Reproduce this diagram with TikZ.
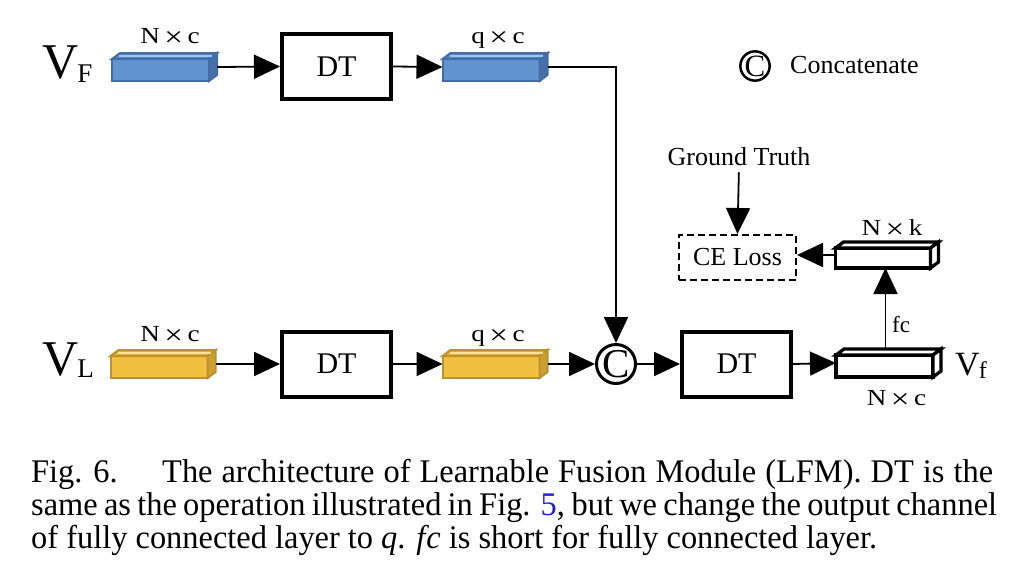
\documentclass[tikz,border=0pt]{standalone}
\usepackage{fontspec}
\setmainfont{Liberation Serif}
\usetikzlibrary{arrows.meta,calc}
\definecolor{bfront}{RGB}{98,148,208}
\definecolor{btop}{RGB}{84,132,192}
\definecolor{bside}{RGB}{70,112,168}
\definecolor{bedge}{RGB}{66,110,165}
\definecolor{bhi}{RGB}{160,198,240}
\definecolor{yfront}{RGB}{242,192,64}
\definecolor{ytop}{RGB}{228,178,56}
\definecolor{yside}{RGB}{205,158,48}
\definecolor{yedge}{RGB}{188,146,48}
\definecolor{yhi}{RGB}{252,226,150}
\definecolor{linkblue}{RGB}{30,30,210}
\newlength\capw
\newcommand\capfont{\fontsize{33}{33}\selectfont}
\newcommand\tms{\,\raisebox{-3pt}{\fontsize{28}{28}\selectfont ×}\,}
% name, front, top, side, edge, highlight-options, line width
\newcommand\barfaces[7]{%
  \draw[line width=#7, draw=#5, fill=#2, line join=miter] (#1.south west) rectangle ($(#1.north east)+(-8,6)$);
  \draw[line width=#7, draw=#5, fill=#3, line join=miter] ($(#1.north west)+(0,6)$) -- ($(#1.north west)+(8,0)$) -- (#1.north east) -- ($(#1.north east)+(-8,6)$) -- cycle;
  \draw[line width=#7, draw=#5, fill=#4, line join=miter] ($(#1.north east)+(-8,6)$) -- (#1.north east) -- ($(#1.south east)+(0,-6)$) -- ($(#1.south east)+(-8,0)$) -- cycle;
  \draw[#6, line width=1.2pt] ($(#1.north west)+(7,3)$) -- ($(#1.north east)+(-5,3)$);
}
\begin{document}
\settowidth\capw{\capfont of fully connected layer to \textit{q}. \textit{f\kern1pt c} is short for fully connected layer.}%
\pgfmathsetmacro\hs{846/(\capw)}%
\pgfmathsetmacro\wa{831/\hs}%
\pgfmathsetmacro\wb{966/\hs}%
\begin{tikzpicture}[x=1pt,y=-1pt,
  arr/.style={-{Triangle[length=26pt,width=24pt]}, line width=1.8pt},
  dtbox/.style={draw, line width=4pt, minimum width=109pt, minimum height=65pt, inner sep=0pt, font=\fontsize{30}{30}\selectfont},
  barnode/.style={minimum width=105pt, minimum height=28pt, inner sep=0pt, outer sep=0pt},
  dimlab/.style={inner sep=0pt, anchor=base, font=\fontsize{23}{23}\selectfont},
  bigv/.style={inner sep=0pt, anchor=base west},
  cebox/.style={draw, dash pattern=on 7pt off 4pt, line width=2pt, minimum width=117pt, minimum height=45pt, inner sep=0pt, font=\fontsize{26}{26}\selectfont},
  txt/.style={inner sep=0pt, font=\fontsize{26}{26}\selectfont},
  capline/.style={inner sep=0pt, anchor=base west}
]
\useasboundingbox (0,0) rectangle (1012,568);
\fill[white] (0,0) rectangle (1012,568);

% ---------- top row ----------
\node[bigv] (vF) at (42,78) {\fontsize{50}{50}\selectfont V\kern-1pt\raisebox{-4pt}{\fontsize{27}{27}\selectfont F}};
\node[barnode] (b1) at (164.5,67) {};
\node[dtbox] (dt1) at (336.5,66.5) {DT};
\node[barnode] (b2) at (495,67) {};
\barfaces{b1}{bfront}{btop}{bside}{bedge}{bhi}{2pt}
\barfaces{b2}{bfront}{btop}{bside}{bedge}{bhi}{2pt}
\node[dimlab] (l1) at (170,43) {\scalebox{1.18}[1]{N\tms c}};
\node[dimlab] (l2) at (498,43) {\scalebox{1.18}[1]{q\tms c}};

% legend
\node[circle, draw, line width=2.5pt, minimum size=28.5pt, inner sep=0pt, font=\fontsize{31}{31}\selectfont] (lc) at (755,66) {C};
\node[txt, anchor=west] (lct) at (790,65) {Concatenate};

% ---------- bottom row ----------
\node[bigv] (vL) at (42,375) {\fontsize{50}{50}\selectfont V\kern-1pt\raisebox{-2pt}{\fontsize{27}{27}\selectfont L}};
\node[barnode] (b3) at (163,364) {};
\node[dtbox] (dt2) at (336.5,364) {DT};
\node[barnode] (b4) at (495,364) {};
\barfaces{b3}{yfront}{ytop}{yside}{yedge}{yhi}{2pt}
\barfaces{b4}{yfront}{ytop}{yside}{yedge}{yhi}{2pt}
\node[dimlab] (l3) at (170,341) {\scalebox{1.18}[1]{N\tms c}};
\node[dimlab] (l4) at (498,341) {\scalebox{1.18}[1]{q\tms c}};

\node[circle, draw, line width=3pt, minimum size=39pt, inner sep=0pt, font=\fontsize{41}{41}\selectfont] (cat) at (616,364) {C};
\node[dtbox] (dt3) at (736.5,364) {DT};
\node[barnode] (b5) at (888.5,363) {};
\barfaces{b5}{white}{white}{white}{black}{draw=none}{3.3pt}
\node[barnode, minimum width=103pt, minimum height=26pt] (b6) at (887,255) {};
\barfaces{b6}{white}{white}{white}{black}{draw=none}{3.3pt}
\node[bigv] (vf) at (955,375) {\fontsize{34}{34}\selectfont V\kern-1pt\raisebox{-3pt}{\fontsize{24}{24}\selectfont f}};
\node[dimlab] (l5) at (896.5,405) {\scalebox{1.18}[1]{N\tms c}};
\node[dimlab] (l6) at (892,235) {\scalebox{1.18}[1]{N\tms k}};
\node[inner sep=0pt, anchor=base west, font=\fontsize{23}{23}\selectfont] (fc) at (892,332) {fc};

\node[cebox] (ce) at (737.5,257.5) {CE Loss};
\node[txt] (gt) at (739,157) {Ground Truth};

% ---------- connectors ----------
\draw[arr] (b1.east) -- (dt1.west);
\draw[arr] (dt1.east) -- (b2.west);
\draw[arr] (b2.east) -| (cat.north);
\draw[arr] (b3.east) -- (dt2.west);
\draw[arr] (dt2.east) -- (b4.west);
\draw[arr] (b4.east) -- (cat.west);
\draw[arr] (cat.east) -- (dt3.west);
\draw[arr] (dt3.east) -- (b5.west);
\draw[arr] ([xshift=-3pt]b5.north) -- ([xshift=-3pt]b5.north |- b6.south);
\draw[arr] (b6.west) -- (b6.west -| ce.east);
\draw[arr, shorten <=6pt] (gt.south) -- (ce.north);

% ---------- caption ----------
\node[capline] (c1a) at (31,482) {\scalebox{\hs}[1]{\capfont Fig. 6.}};
\node[capline] (c1b) at (162,482) {\scalebox{\hs}[1]{\capfont\makebox[\wa pt][s]{The architecture of Learnable Fusion Module (LFM). DT is the}}};
\node[capline] (c2) at (31,515) {\scalebox{\hs}[1]{\capfont\makebox[\wb pt][s]{same as the operation illustrated in Fig. \textcolor{linkblue}{5}, but we change the output channel}}};
\node[capline] (c3) at (31,548) {\scalebox{\hs}[1]{\capfont of fully connected layer to \textit{q}. \textit{f\kern1pt c} is short for fully connected layer.}};
\end{tikzpicture}
\end{document}
